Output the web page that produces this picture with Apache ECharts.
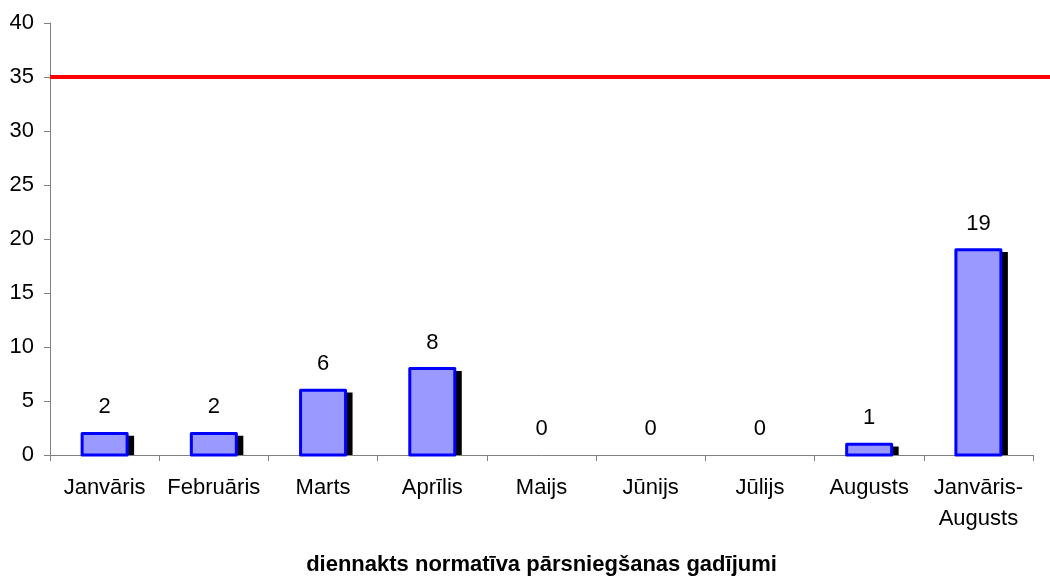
<!DOCTYPE html>
<html><head><meta charset="utf-8">
<script src="https://cdn.jsdelivr.net/npm/echarts@6/dist/echarts.min.js"></script>
<style>html,body{margin:0;padding:0;background:#fff}#c{width:1050px;height:576px}</style>
</head><body><div id="c"></div>
<script>
const categories = ['Janvāris','Februāris','Marts','Aprīlis','Maijs','Jūnijs','Jūlijs','Augusts','Janvāris-\nAugusts'];
const values = [2,2,6,8,0,0,0,1,19];
const limitValue = 35;
const yTicks = {min:0, max:40, interval:5};
const xTitle = 'diennakts normatīva pārsniegšanas gadījumi';

const chart = echarts.init(document.getElementById('c'), null, {renderer:'canvas'});
const font = 'Liberation Sans, Arial, sans-serif';

function renderBar(params, api){
  const idx = api.value(0), v = api.value(1);
  const base = api.coord([idx, 0]);
  const top = api.coord([idx, v]);
  const w = api.size([1, 0])[0] * 0.412;
  const cx = base[0];
  const children = [];
  if (v > 0) {
    const h = base[1] - top[1];
    children.push({type:'rect', shape:{x:cx - w/2 + 7, y:top[1] + 2.3, width:w, height:h - 2.3},
      style:{fill:'#000'}});
    children.push({type:'rect', shape:{x:cx - w/2, y:top[1], width:w, height:h},
      style:{fill:'#9999FF', stroke:'#0000FF', lineWidth:3, lineJoin:'round'}});
  }
  children.push({type:'text', x:cx, y:top[1] - 15,
    style:{text:String(v), align:'center', verticalAlign:'bottom',
      font:'22px ' + font, fill:'#000'}});
  return {type:'group', children};
}

chart.setOption({
  animation:false,
  grid:{left:50,right:17,top:23,bottom:121,containLabel:false,outerBoundsMode:'none'},
  xAxis:{type:'category',data:categories,
    axisLine:{lineStyle:{color:'#808080',width:1}},
    axisTick:{show:true,alignWithLabel:false,length:6,lineStyle:{color:'#808080'}},
    axisLabel:{color:'#000',fontFamily:font,fontSize:22,margin:17,lineHeight:31,interval:0},
    name:xTitle,nameLocation:'middle',nameGap:99,
    nameTextStyle:{color:'#000',fontFamily:font,fontSize:22,fontWeight:'bold'}
  },
  yAxis:{type:'value',min:yTicks.min,max:yTicks.max,interval:yTicks.interval,
    axisLine:{show:true,lineStyle:{color:'#808080',width:1}},
    axisTick:{show:true,inside:false,length:6,lineStyle:{color:'#808080'}},
    splitLine:{show:false},
    axisLabel:{color:'#000',fontFamily:font,fontSize:22,margin:16}
  },
  series:[{type:'custom',renderItem:renderBar,
    data:values.map((v,i)=>[i,v]),encode:{x:0,y:1},clip:false}]
});

// Limit line: spans from the y axis to the right edge of the page, placed through the y scale
const yLimit = chart.convertToPixel({yAxisIndex:0}, limitValue);
const xStart = chart.convertToPixel({gridIndex:0}, [0, limitValue])[0];
const gridLeft = xStart - (chart.convertToPixel({xAxisIndex:0}, 1) - chart.convertToPixel({xAxisIndex:0}, 0)) / 2;
chart.setOption({graphic:[{type:'line',z:10,silent:true,
  shape:{x1:gridLeft, y1:yLimit, x2:1050, y2:yLimit},
  style:{stroke:'#FF0000', lineWidth:4}}]});
</script></body></html>
